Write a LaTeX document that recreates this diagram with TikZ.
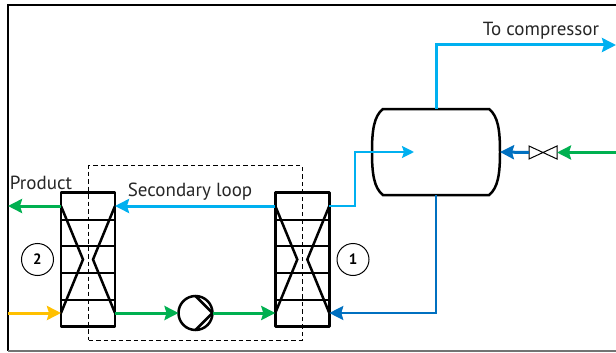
\documentclass[tikz,border=0pt]{standalone}
\usepackage{xcolor}
\usepackage{fontspec}
\setmainfont{PT Sans}
\usetikzlibrary{arrows.meta,positioning,calc}
\definecolor{steam}{HTML}{00B0F0}
\definecolor{liquid}{HTML}{0070C0}
\definecolor{water}{HTML}{00B050}
\definecolor{feed}{HTML}{FFC000}
% plates, crossing lines and ports of one exchanger
\newcommand{\hxinner}[1]{
    \foreach \yy in {27.5,53.5,80.5,107.5}
        \draw[unitline] ($(#1.north west)+(0,\yy)$) -- ($(#1.north east)+(0,\yy)$);
    \coordinate (#1tl) at ($(#1.north west)+(0,13.5)$);
    \coordinate (#1tr) at ($(#1.north east)+(0,13.5)$);
    \coordinate (#1bl) at ($(#1.south west)+(0,-13.5)$);
    \coordinate (#1br) at ($(#1.south east)+(0,-13.5)$);
    \draw[unitline] (#1tl) -- ($(#1.center)+(-5,0)$) -- (#1bl);
    \draw[unitline] (#1tr) -- ($(#1.center)+(5,0)$) -- (#1br);
}
\begin{document}
\begin{tikzpicture}[
    x=1pt,y=-1pt,
    every node/.style={outer sep=0pt,inner sep=0pt},
    unitline/.style={draw=black,line width=2.5pt},
    hx/.style={unitline,line join=round,minimum width=54pt,minimum height=134pt},
    tag/.style={draw=black,line width=1pt,circle,minimum size=32pt,font=\fontsize{15}{17}\selectfont\bfseries},
    lbl/.style={font=\fontsize{19}{21}\selectfont,text=black!85},
    pump/.style={unitline,circle,minimum size=34pt},
    arr/.style={-{Stealth[length=14pt,width=14pt,inset=2pt]},line width=3pt},
    thinarr/.style={-{Stealth[length=12pt,width=12pt,inset=2pt]},line width=2pt}
]
    \useasboundingbox (0,0) rectangle (616,353);
    \draw[line width=2pt] (616,5) -- (7.5,5) -- (7.5,351);
    \draw[line width=1.8pt,black!55] (7.5,351) -- (616,351);

    \node[draw=black,line width=1pt,dash pattern=on 4.5pt off 3pt,minimum width=213.5pt,minimum height=174.5pt] (loop) at (195.25,252.75) {};

    \node[hx] (hxtwo) at (88,259.5) {};
    \node[hx,right=160.3pt of hxtwo] (hxone) {};
    \hxinner{hxtwo}
    \hxinner{hxone}

    \node[tag,left=7.5pt of hxtwo] (tagtwo) {2};
    \node[tag,right=7.7pt of hxone] (tagone) {1};

    \node[pump] (circ) at (195.5,313) {};
    \draw[unitline] (circ.north) -- (circ.east) -- (circ.south);

    \node[minimum width=128pt,minimum height=86pt] (drum) at (436,152) {};
    \draw[unitline] ($(drum.north west)+(11,0)$) -- ($(drum.north east)+(-11,0)$)
        .. controls ($(drum.north east)+(-2,7)$) and ($(drum.east)+(0,-22)$) .. (drum.east)
        .. controls ($(drum.east)+(0,22)$) and ($(drum.south east)+(-2,-7)$) .. ($(drum.south east)+(-11,0)$)
        -- ($(drum.south west)+(11,0)$)
        .. controls ($(drum.south west)+(2,-7)$) and ($(drum.west)+(0,22)$) .. (drum.west)
        .. controls ($(drum.west)+(0,-22)$) and ($(drum.north west)+(2,7)$) .. ($(drum.north west)+(11,0)$) -- cycle;
    \coordinate (inlet) at (414,152);

    \node[minimum width=28pt,minimum height=13pt] (valve) at (543,152.5) {};
    \draw[line width=1pt] (valve.north west) -- (valve.south east) -- (valve.north east) -- (valve.south west) -- cycle;

    \coordinate (compin) at (616,45);
    \coordinate (rightin) at (616,152.5);
    \coordinate (prodout) at (8,206);
    \coordinate (feedin) at (8,313);

    \draw[arr,steam] (drum.north) |- (compin);
    \draw[thinarr,steam] (hxonetr) -- ++(26,0) |- (inlet);
    \draw[arr,liquid,line width=2.2pt] (drum.south) |- (hxonebr);
    \draw[arr,liquid] (valve.west) -- (drum.east);
    \draw[arr,water] (rightin) -- (valve.east);
    \draw[arr,steam] (hxonetl) -- (hxtwotr);
    \draw[arr,water] (hxtwotl) -- (prodout);
    \draw[arr,feed] (feedin) -- (hxtwobl);
    \draw[arr,water] (hxtwobr) -- (circ.west);
    \draw[arr,water] (circ.east) -- (hxonebl);

    \node[lbl] (tocomp) at (541,31) {To compressor};
    \node[lbl] (prod) at (41,183) {Product};
    \node[lbl] (second) at (190,192) {Secondary loop};
\end{tikzpicture}
\end{document}
